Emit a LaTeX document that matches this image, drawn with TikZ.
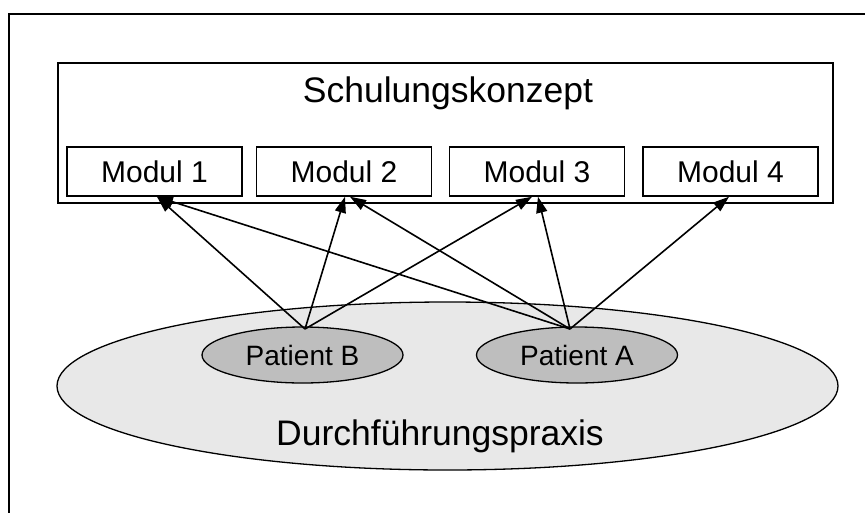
\documentclass[tikz,border=0pt]{standalone}
\usepackage{fontspec}
\setmainfont{Liberation Sans}
\usetikzlibrary{arrows.meta,shapes.geometric,calc}
\definecolor{outerfill}{HTML}{E8E8E8}
\definecolor{patfill}{HTML}{BEBEBE}
\begin{document}
\begin{tikzpicture}[x=1pt,y=-1pt,
  frameline/.style={line width=1.8pt},
  bigbox/.style={draw, line width=1.5pt, minimum width=775pt, minimum height=140pt, inner sep=0pt},
  modbox/.style={draw, line width=1.5pt, minimum width=175pt, minimum height=49pt, inner sep=0pt, font=\fontsize{30}{31}\selectfont},
  bigtext/.style={anchor=base, inner sep=0pt, font=\fontsize{35.5}{36}\selectfont},
  praxisshape/.style={ellipse, draw, fill=outerfill, line width=1.3pt, minimum width=781pt, minimum height=168pt, inner sep=0pt},
  patient/.style={ellipse, draw, fill=patfill, line width=1.3pt, minimum width=201pt, minimum height=56pt, inner sep=0pt, font=\fontsize{28}{29}\selectfont},
  link/.style={line width=1.6pt, -{Triangle[length=16pt,width=11pt]}}]
\useasboundingbox (0,0) rectangle (865,512);
% outer frame (extends beyond the picture at right and bottom)
\coordinate (fbl) at (9,514);
\coordinate (ftl) at (9,14);
\coordinate (ftr) at (867,14);
\draw[frameline] (fbl) -- (ftl) -- (ftr);
% Schulungskonzept
\node[bigbox] (sk) at (445.5,133) {};
\node[bigtext] (title) at (448,102) {Schulungskonzept};
\node[modbox] (m1) at (154.5,171.5) {Modul 1};
\node[modbox] (m2) at (344,171.5) {Modul 2};
\node[modbox] (m3) at (537,171.5) {Modul 3};
\node[modbox] (m4) at (730.5,171.5) {Modul 4};
% Durchfuehrungspraxis
\node[praxisshape] (praxis) at (447.5,386) {};
\node[bigtext] (praxislabel) at (440,445) {Durchführungspraxis};
\node[patient] (pB) at (302.5,355) {Patient B};
\node[patient] (pA) at (577,355) {Patient A};
\coordinate (bt) at (305,329);
\coordinate (at) at (570,329);
% arrows
\draw[link] (bt) -- ($(m1.south)+(2.5,0)$);
\draw[link] (bt) -- ($(m2.south)+(1,0)$);
\draw[link] (bt) -- ($(m3.south)+(-5,0)$);
\draw[link] (at) -- ($(m1.south)+(2.5,0)$);
\draw[link] (at) -- ($(m2.south)+(6,0)$);
\draw[link] (at) -- ($(m3.south)+(1,0)$);
\draw[link] (at) -- ($(m4.south)+(-1.5,0)$);
\end{tikzpicture}
\end{document}
